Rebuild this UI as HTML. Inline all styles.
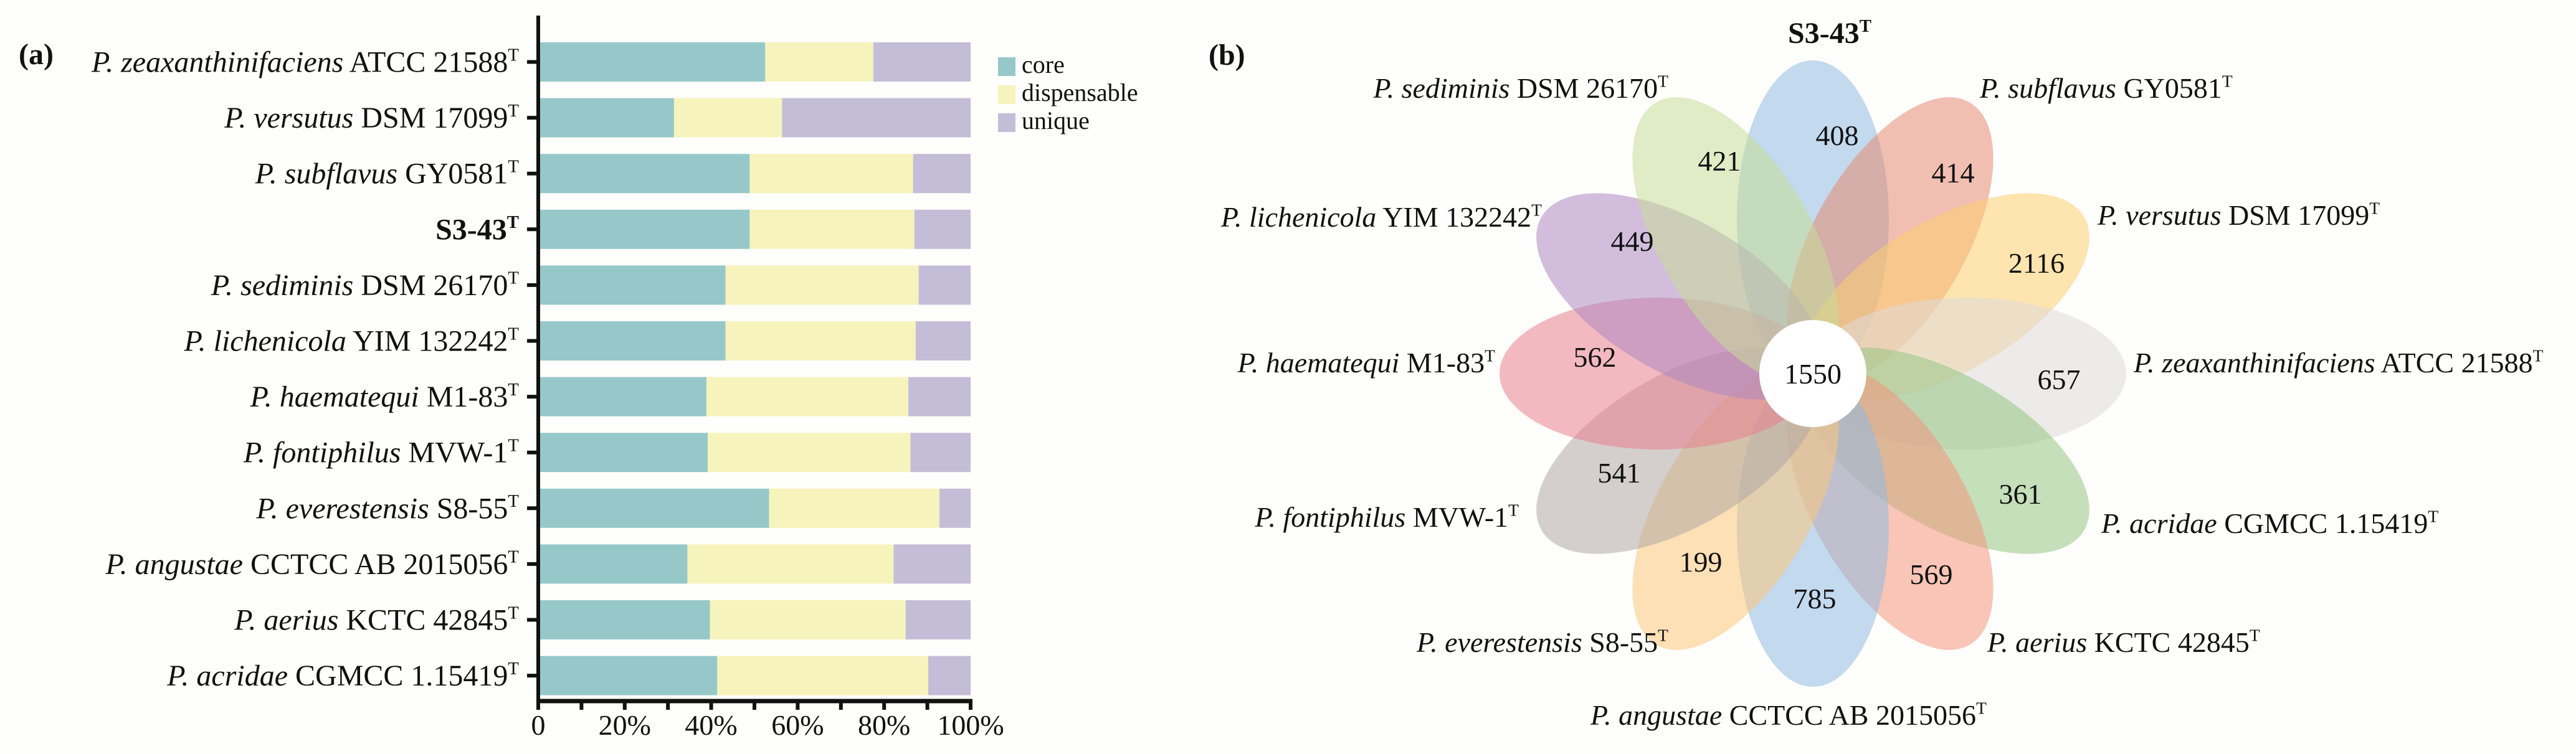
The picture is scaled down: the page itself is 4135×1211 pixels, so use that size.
<!DOCTYPE html>
<html><head><meta charset="utf-8"><style>
html,body{margin:0;padding:0;background:#fefefc;}
svg{display:block;font-family:"Liberation Serif",serif;}
svg text{font-family:"Liberation Serif",serif;}
</style></head><body>
<svg id="fig" width="4135" height="1211" viewBox="0 0 4135 1211" xmlns="http://www.w3.org/2000/svg">
<rect width="4135" height="1211" fill="#fefefc"/>
<g id="barChart"></g>
<g id="flower"></g>
</svg>
<script>
const NS="http://www.w3.org/2000/svg";
// ---- Panel (a) data ----
const strains=[["P. zeaxanthinifaciens"," ATCC 21588"],["P. versutus"," DSM 17099"],["P. subflavus"," GY0581"],["",""],["P. sediminis"," DSM 26170"],["P. lichenicola"," YIM 132242"],["P. haematequi"," M1-83"],["P. fontiphilus"," MVW-1"],["P. everestensis"," S8-55"],["P. angustae"," CCTCC AB 2015056"],["P. aerius"," KCTC 42845"],["P. acridae"," CGMCC 1.15419"]];
const corePct=[52.5,31.4,48.9,48.9,43.3,43.3,38.9,39.2,53.4,34.5,39.7,41.4];
const dispPct=[25.0,25.0,37.8,38.1,44.7,44.0,46.7,46.9,39.4,47.7,45.3,48.8];
const tickLabels=["0","20%","40%","60%","80%","100%"];
const legendLabels=["core","dispensable","unique"];
// ---- Panel (b) data ----
const petalNames=[["","S3-43"],["P. subflavus"," GY0581"],["P. versutus"," DSM 17099"],["P. zeaxanthinifaciens"," ATCC 21588"],["P. acridae"," CGMCC 1.15419"],["P. aerius"," KCTC 42845"],["P. angustae"," CCTCC AB 2015056"],["P. everestensis"," S8-55"],["P. fontiphilus"," MVW-1"],["P. haematequi"," M1-83"],["P. lichenicola"," YIM 132242"],["P. sediminis"," DSM 26170"]];
const uniqueCounts=[408,414,2116,657,361,569,785,199,541,562,449,421];
const coreCount=[1550];

function el(tag,attrs,parent){const e=document.createElementNS(NS,tag);for(const k in attrs)e.setAttribute(k,attrs[k]);parent.appendChild(e);return e;}
function label(parent,x,y,anchor,ital,rest,size,bold){
  const t=el('text',{x:x,y:y,'text-anchor':anchor,'font-size':size,fill:'#111'},parent);
  if(bold)t.setAttribute('font-weight','bold');
  if(ital){const a=el('tspan',{'font-style':'italic'},t);a.textContent=ital;}
  const b=el('tspan',{},t);b.textContent=rest;
  const s=el('tspan',{'font-size':size*0.6,dy:-size*0.38},t);s.textContent='T';
  return t;
}
// ---- bar chart ----
const g=document.getElementById('barChart');
const x0=864,x1=1558,top0=68,pitch=89.6,bh=63;
const xs=v=>x0+(x1-x0)*v/100;
const cols=["#97c8c9","#f6f3bd","#c3bdd7"];
for(let i=0;i<strains.length;i++){
  const y=top0+i*pitch;
  const segs=[[0,corePct[i]],[corePct[i],corePct[i]+dispPct[i]],[corePct[i]+dispPct[i],100]];
  segs.forEach((s,k)=>{
    const r=el('rect',{x:xs(s[0]),y:y,width:xs(s[1])-xs(s[0]),height:bh,fill:cols[k]},g);
    
    
  });
  el('line',{x1:846,x2:x0,y1:y+bh/2,y2:y+bh/2,stroke:'#111','stroke-width':6},g);
  let t;
  if(i===3){t=label(g,833,y+bh/2+16,'end','','S3-43',48,true);}
  else t=label(g,833,y+bh/2+16,'end',strains[i][0],strains[i][1],48,false);
  
  
}
el('line',{x1:x0,x2:x0,y1:25,y2:1140,stroke:'#111','stroke-width':6,},g);
el('line',{x1:x0-3,x2:x1+3,y1:1126,y2:1126,stroke:'#111','stroke-width':7,},g);
for(let k=0;k<=10;k++){el('line',{x1:xs(k*10),x2:xs(k*10),y1:1126,y2:1140,stroke:'#111','stroke-width':6},g);}
tickLabels.forEach((s,k)=>{const t=el('text',{x:xs(k*20),y:1180,'text-anchor':'middle','font-size':46,fill:'#111'},g);t.textContent=s;
  });
legendLabels.forEach((s,k)=>{
  const r=el('rect',{x:1602,y:92+k*45,width:28,height:30,fill:cols[k]},g);
  
  const t=el('text',{x:1640,y:117+k*45,'font-size':40,fill:'#111'},g);t.textContent=s;
  
});
const ta=el('text',{x:30,y:103,'font-size':48,'font-weight':'bold',fill:'#111'},g);ta.textContent='(a)';


// ---- flower ----
const f=document.getElementById('flower');
const cx=2910,cy=600;
const pcols=["#8fb9e2","#e58b73","#fdcd70","#dedada","#96c483","#f2957e","#8fb9e2","#fbc77c","#b0a7a4","#e9808f","#ad86c3","#c6dc98"];
const labPos=[[2937,53,'middle'],[3178,141,'start'],[3367,345,'start'],[3425,582,'start'],[3373,840,'start'],[3190,1031,'start'],[2553,1148,'start'],[2678,1031,'end'],[2438,830,'end'],[2400,582,'end'],[2475,348,'end'],[2678,141,'end']];
const numPos=[[2949,217],[3135,277],[3269,422],[3305,609],[3243,793],[3100,922],[2913,961],[2730,902],[2599,759],[2560,573],[2620,387],[2760,258]];
for(let i=0;i<12;i++){
  const ang=-90+i*30;
  const pcx=cx+248*Math.cos(ang*Math.PI/180), pcy=cy+248*Math.sin(ang*Math.PI/180);
  const e=el('ellipse',{cx:pcx,cy:pcy,rx:255,ry:122,fill:pcols[i],'fill-opacity':0.55,transform:`rotate(${ang} ${pcx} ${pcy})`},f);
  
  
}
el('circle',{cx:cx,cy:cy,r:86,fill:'#ffffff',},f);
for(let i=0;i<12;i++){
  const t=el('text',{x:numPos[i][0],y:numPos[i][1]+16,'text-anchor':'middle','font-size':46,fill:'#111'},f);
  t.textContent=uniqueCounts[i];
  
  
  const p=labPos[i];
  const l=i===0?label(f,p[0],p[1]+16,p[2],'','S3-43',48,true):label(f,p[0],p[1]+16,p[2],petalNames[i][0],petalNames[i][1],46,false);
  
  
}
const ct=el('text',{x:cx,y:cy+16,'text-anchor':'middle','font-size':46,fill:'#111'},f);ct.textContent=coreCount[0];

const tb=el('text',{x:1940,y:104,'font-size':48,'font-weight':'bold',fill:'#111'},f);tb.textContent='(b)';

</script>
</body></html>
